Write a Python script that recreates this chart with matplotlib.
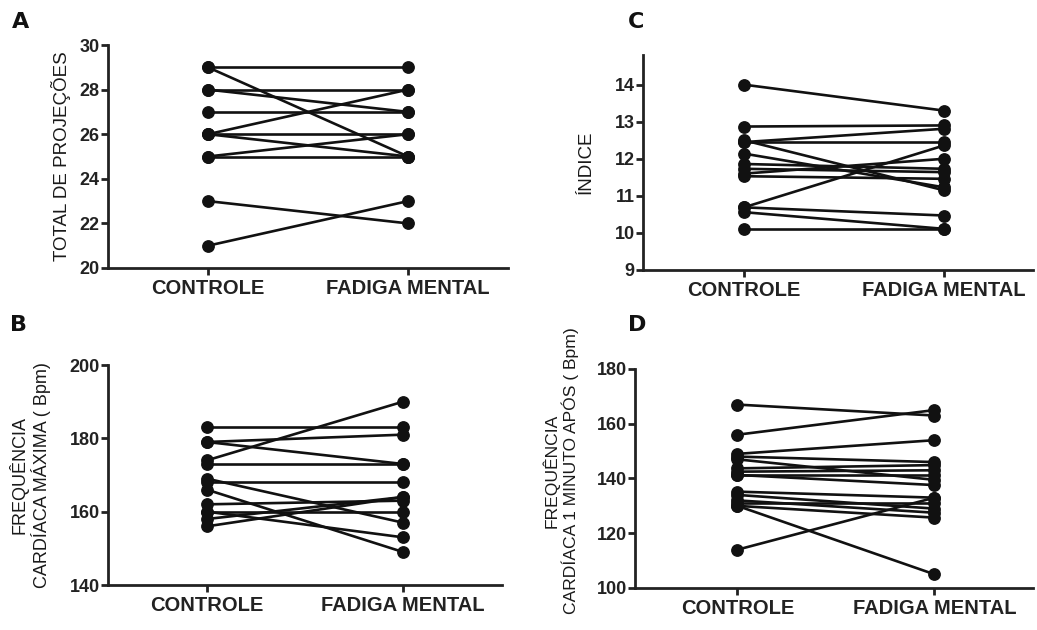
import matplotlib.pyplot as plt

# paired values: controle -> fadiga mental, one line per subject
cats = ['CONTROLE', 'FADIGA MENTAL']

proj_ctrl = [29, 29, 28, 28, 27, 26, 26, 26, 25, 25, 23, 21]
proj_fad = [29, 25, 28, 27, 27, 28, 26, 25, 26, 25, 22, 23]

ind_ctrl = [14.0, 12.87, 12.45, 12.45, 12.5, 12.14, 11.86, 11.73, 11.6, 11.53, 10.69, 10.69, 10.56, 10.11]
ind_fad = [13.3, 12.9, 12.81, 12.45, 11.15, 11.23, 11.73, 11.64, 12.0, 11.46, 12.36, 10.47, 10.11, 10.11]

fcmax_ctrl = [183, 179, 179, 174, 173, 168, 169, 166, 162, 160, 158, 156, 160]
fcmax_fad = [183, 181, 173, 190, 173, 168, 157, 149, 163, 160, 164, 164, 153]

fc1_ctrl = [167, 156, 149, 148, 143.7, 142.5, 141.3, 141.3, 147, 135.2, 134, 132, 130, 131, 130, 114]
fc1_fad = [163, 165, 154, 146, 144.9, 143, 141.3, 137.6, 139.5, 133, 129, 127.5, 125.7, 131, 105, 133]

W, H = 1037, 630
fig = plt.figure(figsize=(W / 100, H / 100), dpi=100)
plt.rcParams['font.family'] = 'Liberation Sans'


def make_ax(x0, x1, ytop, ybot):
    return fig.add_axes([x0 / W, 1 - ybot / H, (x1 - x0) / W, (ybot - ytop) / H])


def paired(ax, ctrl, fad, ylim, yticks, xlim, ylabel, lsize=13.5):
    for a, b in zip(ctrl, fad):
        ax.plot([0, 1], [a, b], color='#111111', lw=1.9, marker='o',
                ms=8.2, mfc='#111111', mec='#111111', solid_capstyle='round')
    ax.set_xlim(*xlim)
    ax.set_ylim(*ylim)
    ax.set_yticks(yticks)
    ax.set_xticks([0, 1])
    ax.set_xticklabels(cats, fontsize=14.5, fontweight='bold', color='#222222')
    for lab in ax.get_yticklabels():
        lab.set_fontsize(13)
        lab.set_fontweight('bold')
        lab.set_color('#222222')
    ax.spines['top'].set_visible(False)
    ax.spines['right'].set_visible(False)
    for s in ('left', 'bottom'):
        ax.spines[s].set_linewidth(2.0)
        ax.spines[s].set_color('#222222')
    ax.tick_params(axis='both', width=2.0, length=5, color='#222222')
    ax.tick_params(axis='x', pad=3)
    ax.tick_params(axis='y', pad=1)
    ax.set_ylabel(ylabel, fontsize=lsize, color='#1a1a1a', linespacing=1.15)


axA = make_ax(108, 508, 45, 268)
paired(axA, proj_ctrl, proj_fad, (20, 30), range(20, 31, 2), (-0.5, 1.5),
       'TOTAL DE PROJEÇÕES')
axA.yaxis.labelpad = 6

axC = make_ax(643, 1033, 55, 270)
paired(axC, ind_ctrl, ind_fad, (9, 14.8), range(9, 15), (-0.505, 1.445),
       'ÍNDICE')
axC.yaxis.labelpad = 14

axB = make_ax(108, 502, 365, 585)
paired(axB, fcmax_ctrl, fcmax_fad, (140, 200), range(140, 201, 20), (-0.505, 1.505),
       'FREQUÊNCIA\nCARDÍACA MÁXIMA ( Bpm)', lsize=13)
axB.yaxis.labelpad = 13

axD = make_ax(635, 1033, 369, 588)
paired(axD, fc1_ctrl, fc1_fad, (100, 180), range(100, 181, 20), (-0.52, 1.5),
       'FREQUÊNCIA\nCARDÍACA 1 MINUTO APÓS ( Bpm)', lsize=12.6)
axD.yaxis.set_label_coords(-0.14, 0.535)

# panel letters
for txt, x, y in [('A', 12, 22), ('C', 628, 22), ('B', 10, 325), ('D', 628, 325)]:
    fig.text(x / W, 1 - y / H, txt, fontsize=16, fontweight='bold',
             family='DejaVu Sans', va='center', ha='left', color='#111111')

fig.savefig('out.png', dpi=100)
